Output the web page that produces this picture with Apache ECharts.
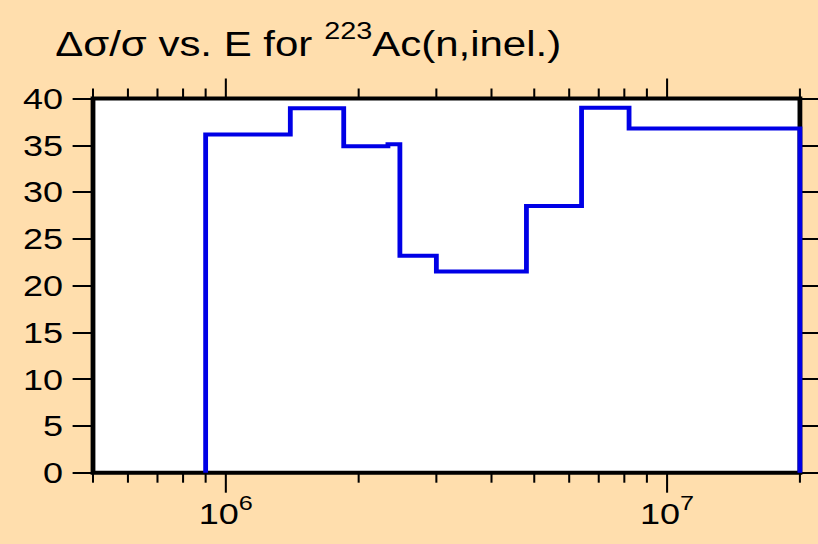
<!DOCTYPE html>
<html>
<head>
<meta charset="utf-8">
<script src="https://cdn.jsdelivr.net/npm/echarts@6.0.0/dist/echarts.min.js"></script>
<style>
html, body { margin: 0; padding: 0; background: #ffdead; overflow: hidden; }
#wrap { width: 818px; height: 544px; overflow: hidden; }
/* the reference is a horizontally stretched plot, so the chart is drawn narrower and scaled */
#main { width: 681.67px; height: 544px; transform: scaleX(1.2); transform-origin: 0 0; }
</style>
</head>
<body>
<div id="wrap"><div id="main"></div></div>
<script>
// bin edges (eV) and relative uncertainty (%) per bin
var binEdges = [9e5, 1.4e6, 1.85e6, 2.33e6, 2.48e6, 3.0e6, 4.8e6, 6.4e6, 8.2e6, 2e7]
var binValues = [36.15, 38.96, 34.9, 35.1, 23.2, 21.5, 28.5, 39.0, 36.8]

// x axis tick positions (log scale)
var xTickValues = [5e5, 6e5, 7e5, 8e5, 9e5, 1e6, 2e6, 3e6, 4e6, 5e6, 6e6, 7e6, 8e6, 9e6, 1e7, 2e7]

var titleMain = 'Δσ/σ vs. E for '
var titleSup = '223'
var titleRest = 'Ac(n,inel.)'

var font = 'Liberation Sans, Arial, Helvetica, sans-serif'

function isDecade(v) {
    var e = Math.log10(v)
    return Math.abs(e - Math.round(e)) < 1e-6
}

// build the histogram outline
var stepData = [[binEdges[0], 0]]
for (var i = 0; i < binValues.length; i++) {
    stepData.push([binEdges[i], binValues[i]])
    stepData.push([binEdges[i + 1], binValues[i]])
}
stepData.push([binEdges[binEdges.length - 1], 0])

var tickData = xTickValues.map(function (v) { return [v, 0] })

var myChart = echarts.init(document.getElementById('main'), null, {renderer: 'svg'})

var option = {
    backgroundColor: '#ffdead',
    animation: false,
    title: {
        text: '{a|' + titleMain + '}{s|' + titleSup + '}{a|' + titleRest + '}',
        left: 41,
        top: 14,
        textStyle: {
            fontFamily: font,
            fontSize: 35,
            color: '#000',
            fontWeight: 'normal',
            rich: {
                a: { fontFamily: font, fontSize: 35, color: '#000', lineHeight: 42, verticalAlign: 'bottom' },
                s: { fontFamily: font, fontSize: 24, color: '#000', lineHeight: 24, verticalAlign: 'top' }
            }
        }
    },
    grid: {
        left: 77.5,
        right: 15.4,
        top: 98.5,
        bottom: 71.3,
        show: true,
        backgroundColor: '#fff',
        borderColor: '#000',
        borderWidth: 4
    },
    xAxis: {
        type: 'log',
        logBase: 10,
        min: 5e5,
        max: 2e7,
        axisLine: { show: false },
        axisTick: { show: false },
        splitLine: { show: false },
        axisLabel: {
            margin: 20,
            fontFamily: font,
            color: '#000',
            formatter: function (v) {
                if (!isDecade(v)) return ''
                return '{b|10}{s|' + Math.round(Math.log10(v)) + '}'
            },
            rich: {
                b: { fontFamily: font, fontSize: 30, color: '#000', lineHeight: 36, verticalAlign: 'bottom' },
                s: { fontFamily: font, fontSize: 21, color: '#000', lineHeight: 22, verticalAlign: 'top' }
            }
        }
    },
    yAxis: [
        {
            type: 'value',
            position: 'left',
            min: 0,
            max: 40,
            interval: 5,
            axisLine: { show: false },
            axisTick: { show: true, inside: false, length: 17, lineStyle: { color: '#000', width: 2 } },
            splitLine: { show: false },
            axisLabel: { margin: 25, fontFamily: font, fontSize: 30, color: '#000' }
        },
        {
            type: 'value',
            position: 'right',
            min: 0,
            max: 40,
            interval: 5,
            axisLine: { show: false },
            axisTick: { show: true, inside: false, length: 17, lineStyle: { color: '#000', width: 2 } },
            splitLine: { show: false },
            axisLabel: { show: false }
        }
    ],
    series: [
        {
            // log-axis ticks, top and bottom, outward
            type: 'custom',
            silent: true,
            clip: false,
            z: 1,
            data: tickData,
            renderItem: function (params, api) {
                var v = api.value(0)
                var len = isDecade(v) ? 20 : 10
                var pb = api.coord([v, 0])
                var pt = api.coord([v, 40])
                return {
                    type: 'group',
                    children: [
                        { type: 'line', shape: { x1: pb[0], y1: pb[1], x2: pb[0], y2: pb[1] + len },
                          style: { stroke: '#000', lineWidth: 1.7 } },
                        { type: 'line', shape: { x1: pt[0], y1: pt[1], x2: pt[0], y2: pt[1] - len },
                          style: { stroke: '#000', lineWidth: 1.7 } }
                    ]
                }
            }
        },
        {
            type: 'line',
            data: stepData,
            showSymbol: false,
            symbol: 'none',
            clip: false,
            z: 5,
            lineStyle: { color: '#0000e6', width: 4, join: 'miter', cap: 'butt' }
        }
    ]
}

myChart.setOption(option)
</script>
</body>
</html>
